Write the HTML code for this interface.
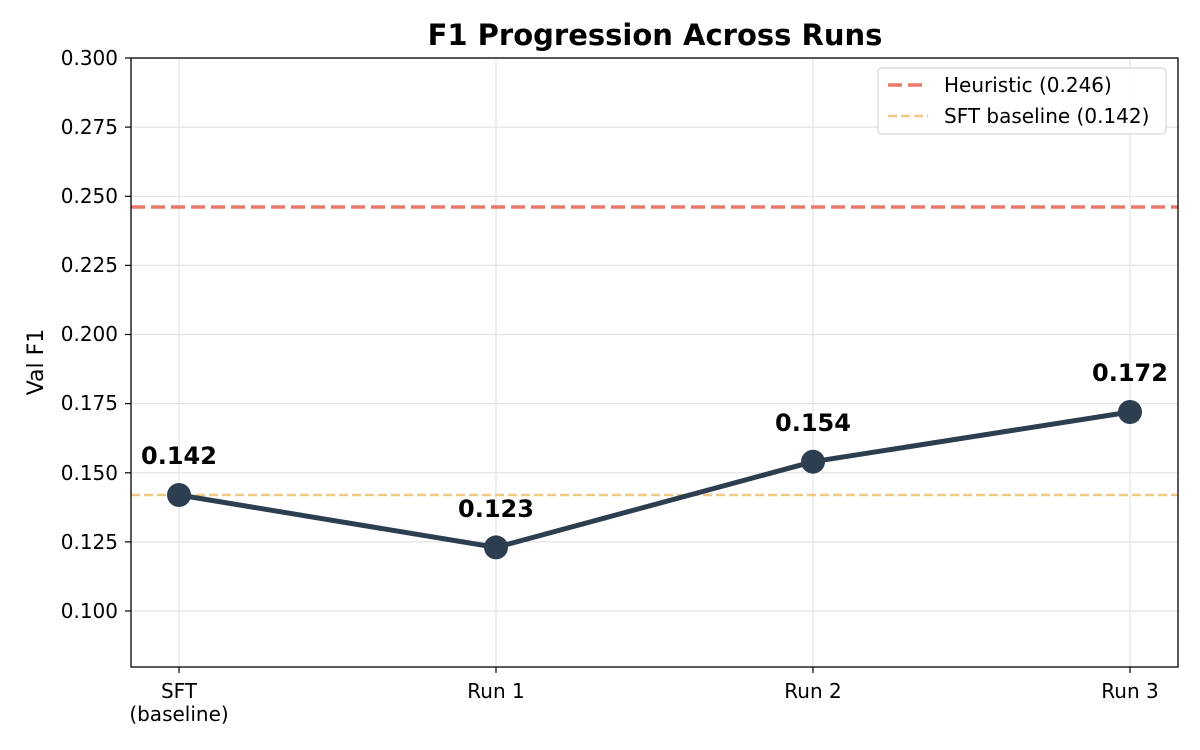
<!DOCTYPE html>
<html><head><meta charset="utf-8"><style>
html,body{margin:0;padding:0;background:#fff;}
svg{display:block;font-family:"DejaVu Sans","Liberation Sans",sans-serif;}
</style></head><body>
<svg width="1200" height="750" viewBox="0 0 1200 750" xmlns="http://www.w3.org/2000/svg">
<rect width="1200" height="750" fill="#fff"/>
<text x="655" y="45" text-anchor="middle" font-size="29" font-weight="bold" fill="#000">F1 Progression Across Runs</text>
<g stroke="#e3e3e3" stroke-width="1.2">
<line x1="131" x2="1178" y1="58" y2="58"/>
<line x1="131" x2="1178" y1="127.1" y2="127.1"/>
<line x1="131" x2="1178" y1="196.3" y2="196.3"/>
<line x1="131" x2="1178" y1="265.4" y2="265.4"/>
<line x1="131" x2="1178" y1="334.5" y2="334.5"/>
<line x1="131" x2="1178" y1="403.6" y2="403.6"/>
<line x1="131" x2="1178" y1="472.8" y2="472.8"/>
<line x1="131" x2="1178" y1="541.9" y2="541.9"/>
<line x1="131" x2="1178" y1="611" y2="611"/>
<line x1="179" x2="179" y1="58" y2="667"/>
<line x1="496" x2="496" y1="58" y2="667"/>
<line x1="813" x2="813" y1="58" y2="667"/>
<line x1="1130" x2="1130" y1="58" y2="667"/>
</g>
<line x1="131" x2="1178" y1="207" y2="207" stroke="#e8796b" stroke-width="3.5" stroke-dasharray="14,6"/>
<line x1="131" x2="1178" y1="495" y2="495" stroke="#f0c987" stroke-width="2.5" stroke-dasharray="9,4"/>
<polyline points="179,495 496,547.4 813,461.7 1130,412" fill="none" stroke="#2c3e50" stroke-width="5" stroke-linejoin="round"/>
<g fill="#2c3e50">
<circle cx="179" cy="495" r="12"/><circle cx="496" cy="547.4" r="12"/>
<circle cx="813" cy="461.7" r="12"/><circle cx="1130" cy="412" r="12"/>
</g>
<g font-size="24" font-weight="bold" text-anchor="middle" fill="#000">
<text x="179" y="464">0.142</text><text x="496" y="517">0.123</text>
<text x="813" y="431">0.154</text><text x="1130" y="381">0.172</text>
</g>
<rect x="131" y="58" width="1047" height="609" fill="none" stroke="#000" stroke-width="1.3"/>
<g stroke="#000" stroke-width="1.2">
<line x1="125" x2="131" y1="58" y2="58"/><line x1="125" x2="131" y1="127.1" y2="127.1"/>
<line x1="125" x2="131" y1="196.3" y2="196.3"/><line x1="125" x2="131" y1="265.4" y2="265.4"/>
<line x1="125" x2="131" y1="334.5" y2="334.5"/><line x1="125" x2="131" y1="403.6" y2="403.6"/>
<line x1="125" x2="131" y1="472.8" y2="472.8"/><line x1="125" x2="131" y1="541.9" y2="541.9"/>
<line x1="125" x2="131" y1="611" y2="611"/>
<line x1="179" x2="179" y1="667" y2="673"/><line x1="496" x2="496" y1="667" y2="673"/>
<line x1="813" x2="813" y1="667" y2="673"/><line x1="1130" x2="1130" y1="667" y2="673"/>
</g>
<g font-size="20" text-anchor="end" fill="#000">
<text x="118" y="65">0.300</text><text x="118" y="134">0.275</text>
<text x="118" y="203">0.250</text><text x="118" y="272">0.225</text>
<text x="118" y="341">0.200</text><text x="118" y="410">0.175</text>
<text x="118" y="480">0.150</text><text x="118" y="549">0.125</text>
<text x="118" y="618">0.100</text>
</g>
<g font-size="20" text-anchor="middle" fill="#000">
<text x="179" y="698">SFT</text><text x="179" y="721">(baseline)</text>
<text x="496" y="698">Run 1</text><text x="813" y="698">Run 2</text><text x="1130" y="698">Run 3</text>
</g>
<text transform="translate(43,362) rotate(-90)" text-anchor="middle" font-size="22" fill="#000">Val F1</text>
<rect x="878" y="68" width="288" height="66" rx="4" fill="#fff" fill-opacity="0.8" stroke="#ccc"/>
<line x1="888" x2="928" y1="85" y2="85" stroke="#e8796b" stroke-width="3.5" stroke-dasharray="14,6"/>
<line x1="888" x2="928" y1="116" y2="116" stroke="#f0c987" stroke-width="2.5" stroke-dasharray="9,4"/>
<text x="944" y="92" font-size="20" fill="#000">Heuristic (0.246)</text>
<text x="944" y="123" font-size="20" fill="#000">SFT baseline (0.142)</text>
</svg>
</body></html>
